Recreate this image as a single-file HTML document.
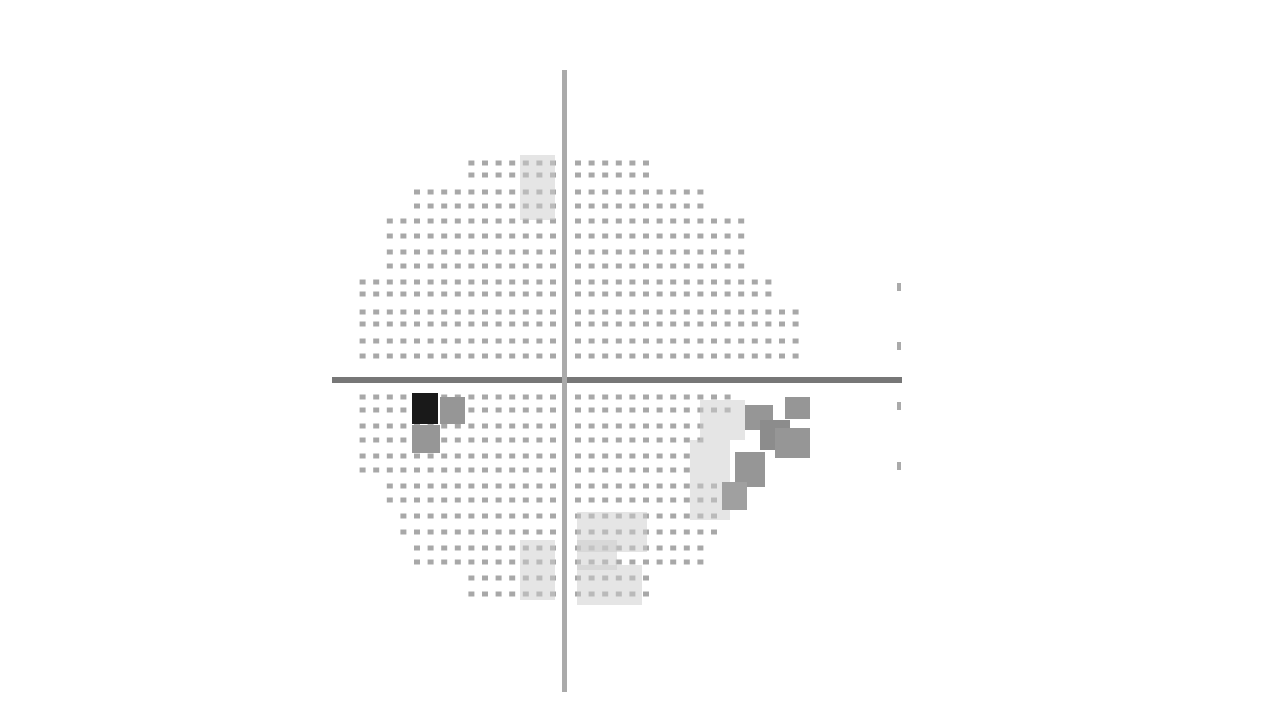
<!DOCTYPE html>
<html><head><meta charset="utf-8"><style>
html,body{margin:0;padding:0;background:#fff;width:1280px;height:720px;overflow:hidden}
svg{display:block}
</style></head><body>
<svg id="chart" width="1280" height="720" viewBox="0 0 1280 720">
<g id="field"></g>
<g id="blocks"></g>
<rect x="332" y="377" width="570" height="6" fill="#777"/>
<rect x="562" y="70" width="5" height="622" fill="#aaa"/>
<g fill="#aaa">
<rect x="897" y="283" width="4" height="8"/><rect x="897" y="342" width="4" height="8"/>
<rect x="897" y="402" width="4" height="8"/><rect x="897" y="462" width="4" height="8"/>
</g>
</svg>
<script>
const rowY = [163,175,192,206,221,236,252,266,282,294,312,324,341,356,397,410,426,440,456,470,486,500,516,532,548,562,578,594];
const leftStart = [8,8,4,4,2,2,2,2,0,0,0,0,0,0,0,0,0,0,0,0,2,2,3,3,4,4,8,8];
const rightCount = [6,6,10,10,13,13,13,13,15,15,17,17,17,17,12,12,10,10,9,9,11,11,11,11,10,10,6,6];
const blockX = [412,440,412,745,760,775,735,785,722];
const blockY = [393,397,425,405,420,428,452,397,482];
const blockW = [26,25,28,28,30,35,30,25,25];
const blockH = [31,27,28,25,30,30,35,22,28];
const blockGrey = [25,150,150,150,140,150,150,150,160];
const hatchX = [520,520,700,690,577,577,520,577];
const hatchY = [155,185,400,440,512,565,540,540];
const hatchW = [35,35,45,40,70,65,35,40];
const hatchH = [30,35,40,80,40,40,60,30];

const ns="http://www.w3.org/2000/svg";
const field=document.getElementById('field');
const colDx=13.6, leftEnd=553, rightStart=578;
function colLeft(i){return leftEnd-(14-i)*colDx;}
function colRight(i){return rightStart+i*colDx;}
for(let r=0;r<rowY.length;r++){
  for(let c=leftStart[r];c<15;c++){
    const d=document.createElementNS(ns,'rect');
    
    
    d.setAttribute('x',colLeft(c)-3);d.setAttribute('y',rowY[r]-2.5);
    d.setAttribute('width',6);d.setAttribute('height',5);d.setAttribute('fill','#a8a8a8');
    field.appendChild(d);
  }
  for(let c=0;c<rightCount[r];c++){
    const d=document.createElementNS(ns,'rect');
    
    
    d.setAttribute('x',colRight(c)-3);d.setAttribute('y',rowY[r]-2.5);
    d.setAttribute('width',6);d.setAttribute('height',5);d.setAttribute('fill','#a8a8a8');
    field.appendChild(d);
  }
}
const blocks=document.getElementById('blocks');
for(let i=0;i<hatchX.length;i++){
  const h=document.createElementNS(ns,'rect');
  
  
  h.setAttribute('x',hatchX[i]);h.setAttribute('y',hatchY[i]);
  h.setAttribute('width',hatchW[i]);h.setAttribute('height',hatchH[i]);
  h.setAttribute('fill','#ccc');h.setAttribute('opacity','0.5');
  blocks.appendChild(h);
}
for(let i=0;i<blockX.length;i++){
  const b=document.createElementNS(ns,'rect');
  
  
  b.setAttribute('x',blockX[i]);b.setAttribute('y',blockY[i]);
  b.setAttribute('width',blockW[i]);b.setAttribute('height',blockH[i]);
  const g=blockGrey[i];
  b.setAttribute('fill','rgb('+g+','+g+','+g+')');
  blocks.appendChild(b);
}
</script>
</body></html>
